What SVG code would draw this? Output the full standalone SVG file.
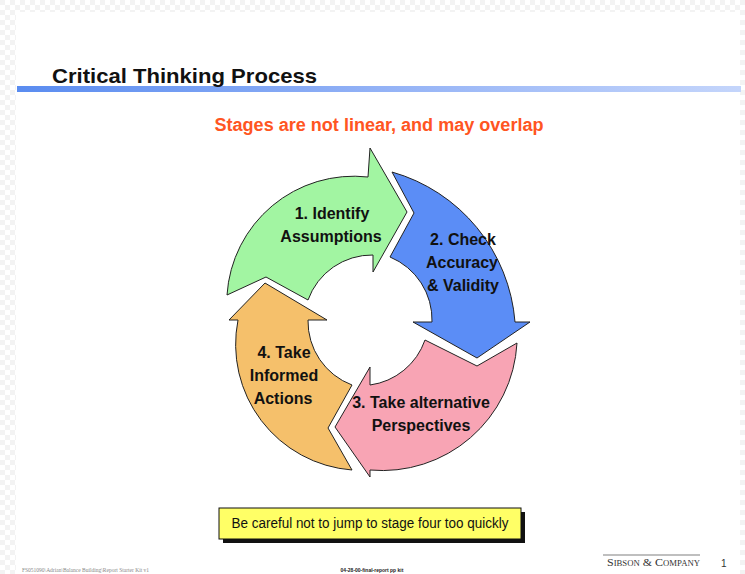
<svg xmlns="http://www.w3.org/2000/svg" width="745" height="574" viewBox="0 0 745 574">
  <defs>
    <pattern id="checker" width="10" height="10" patternUnits="userSpaceOnUse">
      <rect width="10" height="10" fill="#ffffff"/>
      <rect width="5" height="5" fill="#f3f3f3"/>
      <rect x="5" y="5" width="5" height="5" fill="#f3f3f3"/>
    </pattern>
    <linearGradient id="rule" x1="0" y1="0" x2="1" y2="0">
      <stop offset="0" stop-color="#5a8cf0"/>
      <stop offset="0.5" stop-color="#93b2f6"/>
      <stop offset="1" stop-color="#c4d5fb"/>
    </linearGradient>
    <style>
      .stage { stroke: #222; stroke-width: 1; stroke-linejoin: miter; }
      .lbl { font-family: "Liberation Sans", Arial, sans-serif; font-weight: bold; font-size: 16px; fill: #111; text-anchor: middle; }
    </style>
  </defs>

  <!-- page -->
  <rect width="745" height="574" fill="url(#checker)"/>
  <rect x="16" y="12" width="724" height="562" fill="#ffffff"/>

  <!-- heading -->
  <g id="heading">
    <rect x="17" y="86" width="724" height="6" fill="url(#rule)"/>
    <text x="52" y="83" font-family="Liberation Sans, Arial, sans-serif" font-weight="bold" font-size="21" fill="#111" textLength="265" lengthAdjust="spacingAndGlyphs">Critical Thinking Process</text>
    <text x="379" y="131" font-family="Liberation Sans, Arial, sans-serif" font-weight="bold" font-size="18" fill="#ff5522" text-anchor="middle" textLength="329" lengthAdjust="spacingAndGlyphs">Stages are not linear, and may overlap</text>
  </g>

  <!-- cycle connectors (the curved arrows themselves) -->
  <g id="connectors">
    <g id="stage1">
      <path class="stage" fill="#a2f5a2" d="M227,295 A127,127 0 0 1 368,177 L370,148 L407,212 L373,272 L373,255 A68,68 0 0 0 308,300 L266,277 Z"/>
      <text class="lbl" x="332" y="219">1. Identify</text>
      <text class="lbl" x="331" y="242">Assumptions</text>
    </g>
    <g id="stage2">
      <path class="stage" fill="#5b8df6" d="M392,172 A170,170 0 0 1 515,322 L530,322 L477,358 L413,322 L432,322 A68,68 0 0 0 390,257 L414,213 Z"/>
      <text class="lbl" x="463" y="245">2. Check</text>
      <text class="lbl" x="462" y="268">Accuracy</text>
      <text class="lbl" x="463" y="291">&amp; Validity</text>
    </g>
    <g id="stage3">
      <path class="stage" fill="#f8a4b4" d="M517,343 A135,135 0 0 1 370,470 L370,477 L335,427 L370,367 L370,385 A68,68 0 0 0 425,340 L477,366 Z"/>
      <text class="lbl" x="421" y="408">3. Take alternative</text>
      <text class="lbl" x="421" y="431">Perspectives</text>
    </g>
    <g id="stage4">
      <path class="stage" fill="#f5c06b" d="M238,320 A126,126 0 0 0 352,470 L328,428 L352,385 A68,68 0 0 1 308,320 L327,320 L265,283 L229,320 Z"/>
      <text class="lbl" x="284" y="358">4. Take</text>
      <text class="lbl" x="284" y="381">Informed</text>
      <text class="lbl" x="283" y="404">Actions</text>
    </g>
  </g>

  <!-- caution note -->
  <g id="note">
    <rect x="223" y="512" width="302" height="31" fill="#111"/>
    <rect x="219" y="508" width="302" height="31" fill="#ffff66" stroke="#111" stroke-width="1"/>
    <text x="370" y="528" font-family="Liberation Sans, Arial, sans-serif" font-size="14" fill="#111" text-anchor="middle" textLength="277" lengthAdjust="spacingAndGlyphs">Be careful not to jump to stage four too quickly</text>
  </g>

  <!-- footer -->
  <g id="footer">
    <text x="22" y="572" font-family="Liberation Serif, serif" font-size="5.5" fill="#888">FS051090\Adrian\Balance Building\Report Starter Kit v1</text>
    <text x="372" y="572" font-family="Liberation Sans, Arial, sans-serif" font-weight="bold" font-size="5" fill="#222" text-anchor="middle">04-28-00-final-report pp kit</text>
    <line x1="603" y1="555" x2="700" y2="555" stroke="#aaa" stroke-width="1.5"/>
    <text x="607" y="566" font-family="Liberation Serif, serif" font-size="11" font-variant="small-caps" fill="#333" textLength="93" lengthAdjust="spacingAndGlyphs">Sibson &amp; Company</text>
    <text x="721" y="567" font-family="Liberation Sans, Arial, sans-serif" font-size="10" fill="#333">1</text>
  </g>
</svg>
